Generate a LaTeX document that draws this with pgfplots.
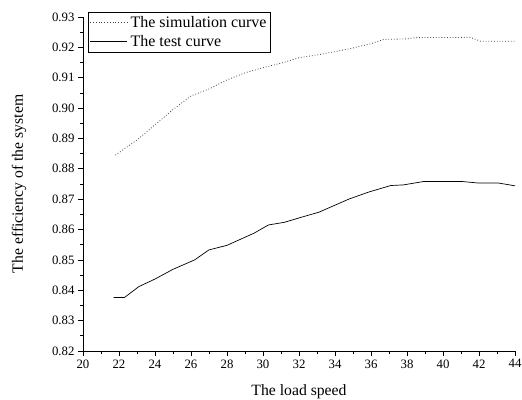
\documentclass[border=0pt]{standalone}
\usepackage{fontspec}
\setmainfont{Liberation Serif}
\usepackage{pgfplots}
\pgfplotsset{compat=1.18}

\newcommand{\tickfont}{\fontsize{12.8pt}{15pt}\selectfont}
\newcommand{\labelfont}{\fontsize{15.7pt}{18pt}\selectfont}
\newcommand{\legendfont}{\fontsize{16pt}{18pt}\selectfont}

\begin{document}
\begin{tikzpicture}[font=\tickfont]
\begin{axis}[
  scale only axis,
  width=432pt, height=334pt,
  xmin=20, xmax=44, ymin=0.82, ymax=0.93,
  axis x line*=bottom, axis y line*=left,
  axis line style={line width=0.8pt, -},
  xtick={20,22,...,44},
  ytick={0.82,0.83,...,0.93},
  minor x tick num=1, minor y tick num=1,
  tick align=outside,
  major tick length=5pt, minor tick length=3pt,
  tick style={line width=0.8pt, black},
  /pgf/number format/assume math mode=true,
  every tick label/.append style={font=\tickfont},
  label style={font=\labelfont},
  yticklabel style={/pgf/number format/fixed, /pgf/number format/fixed zerofill, /pgf/number format/precision=2},
  xticklabel style={/pgf/number format/fixed},
  xlabel={The load speed},
  ylabel={The efficiency of the system},
  xlabel style={at={(axis description cs:0.5,-0.123)}, anchor=center},
  ylabel style={at={(axis description cs:-0.148,0.5)}, anchor=center, rotate=0},
  legend style={at={(axis description cs:0.0125,1.016)}, anchor=north west,
    draw=black, line width=0.8pt, inner xsep=1pt, inner ysep=1.5pt,
    row sep=0pt, font=\legendfont,
    nodes={inner xsep=3pt, inner ysep=3pt}},
  legend cell align=left,
  legend image code/.code={\draw[#1] (0pt,0pt) -- (37pt,0pt);},
]
% simulated efficiency
\addplot[black!75, dotted, line width=0.8pt] coordinates {
  (21.8,0.8845) (23.0,0.8895) (24.0,0.8945) (25.0,0.8995) (26.0,0.9040)
  (27.0,0.9063) (28.0,0.9093) (29.0,0.9116) (30.0,0.9133) (31.0,0.9148)
  (32.0,0.9166) (33.0,0.9175) (34.0,0.9186) (35.0,0.9198) (36.0,0.9212)
  (36.7,0.9226) (38.0,0.9228) (38.5,0.9232) (41.5,0.9233) (42.1,0.9220)
  (44.0,0.9220)
};
\addlegendentry{The simulation curve}
% measured efficiency
\addplot[black, line width=0.7pt] coordinates {
  (21.7,0.8376) (22.3,0.8376) (23.1,0.8412) (24.0,0.8437) (25.0,0.8469)
  (26.2,0.8500) (27.0,0.8533) (28.0,0.8548) (29.5,0.8588) (30.3,0.8615)
  (31.2,0.8624) (32.1,0.8640) (33.1,0.8657) (34.8,0.8701) (35.9,0.8724)
  (37.1,0.8745) (37.8,0.8747) (38.9,0.8758) (41.1,0.8758) (42.0,0.8753)
  (43.1,0.8753) (44.0,0.8744)
};
\addlegendentry{The test curve}
\end{axis}
\pgfresetboundingbox
\path (-83pt,-48pt) rectangle (439pt,351pt);
\end{tikzpicture}
\end{document}
